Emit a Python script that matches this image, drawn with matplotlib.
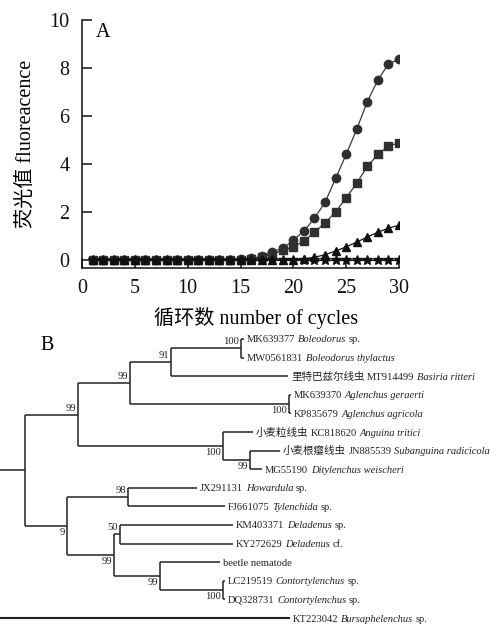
import matplotlib
matplotlib.use("Agg")
import matplotlib.pyplot as plt
import numpy as np

plt.rcParams['font.family'] = ['Liberation Serif', 'Noto Sans CJK SC']
plt.rcParams['axes.unicode_minus'] = False

# ---------------- Panel A data ----------------
cycles = list(range(1, 31))
circle_vals = [0]*14 + [0.03, 0.07, 0.15, 0.33, 0.5, 0.83, 1.2, 1.75, 2.4, 3.4,
                        4.4, 5.45, 6.6, 7.5, 8.17, 8.37]
square_vals = [0]*15 + [0.05, 0.12, 0.25, 0.4, 0.55, 0.8, 1.15, 1.55, 2.0, 2.6,
                        3.2, 3.9, 4.4, 4.75, 4.88]
triangle_vals = [0]*20 + [0.05, 0.12, 0.22, 0.38, 0.55, 0.75, 0.96, 1.16, 1.33, 1.45]
star_vals = [0]*30
x_ticks = [0, 5, 10, 15, 20, 25, 30]
y_ticks = [0, 2, 4, 6, 8, 10]

# ---------------- Panel B data (tree) ----------------
tip_segments = [
    [("MK639377", False), ("Boleodorus", True), ("sp.", False)],
    [("MW0561831", False), ("Boleodorus thylactus", True)],
    [("里特巴兹尔线虫", False), ("MT914499", False), ("Basiria ritteri", True)],
    [("MK639370", False), ("Aglenchus geraerti", True)],
    [("KP835679", False), ("Aglenchus agricola", True)],
    [("小麦粒线虫", False), ("KC818620", False), ("Anguina tritici", True)],
    [("小麦根瘿线虫", False), ("JN885539", False), ("Subanguina radicicola", True)],
    [("MG55190", False), ("Ditylenchus weischeri", True)],
    [("JX291131", False), ("Howardula", True), ("sp.", False)],
    [("FJ661075", False), ("Tylenchida", True), ("sp.", False)],
    [("KM403371", False), ("Deladenus", True), ("sp.", False)],
    [("KY272629", False), ("Deladenus", True), ("cf.", False)],
    [("beetle nematode", False)],
    [("LC219519", False), ("Contortylenchus", True), ("sp.", False)],
    [("DQ328731", False), ("Contortylenchus", True), ("sp.", False)],
    [("KT223042", False), ("Bursaphelenchus", True), ("sp.", False)],
]
tip_depth = [244, 244, 288, 291, 291, 253, 280, 262, 197, 225, 233, 233, 220, 225, 225, 290]

node_names = ['bol', 'a1a', 'agl', 'a1', 'sub', 'ang', 'A', 'how', 'del', 'con',
              'bee', 'd99', 'B', 'in', 'root']
node_children = [[0, 1], ['bol', 2], [3, 4], ['a1a', 'agl'], [6, 7], [5, 'sub'],
                 ['a1', 'ang'], [8, 9], [10, 11], [13, 14], [12, 'con'],
                 ['del', 'bee'], ['how', 'd99'], ['A', 'B'], ['in', 15]]
node_depth = [241, 171, 289, 130, 250, 223, 78, 128, 120, 223, 160, 114, 67, 25, -3]
node_support = ['100', '91', '100', '99', '99', '100', '99', '98', '50', '100',
                '99', '99', '9', '', '']
node_label_side = ['above', 'above', 'below', 'above', 'below', 'below', 'above',
                   'above', 'above', 'below', 'below', 'below', 'below', '', '']

W, H = 498, 627
fig = plt.figure(figsize=(W/100, H/100), dpi=100)

# ---------------- Panel A ----------------
axA = fig.add_axes([82/W, 1-268/H, 317/W, 248/H])
lc = '#3a3a3a'
mc = '#2f2f2f'
axA.plot(cycles, circle_vals, '-o', color=lc, lw=0.9, ms=6, mfc=mc, mec=mc, zorder=3)
axA.plot(cycles, square_vals, '-s', color=lc, lw=0.9, ms=5.6, mfc=mc, mec=mc, zorder=4)
axA.plot(cycles, triangle_vals, '-^', color='#111', lw=0.9, ms=5.5, mfc='#111', mec='#111', zorder=5)
axA.plot(cycles, star_vals, '-*', color='#111', lw=0.9, ms=7, mfc='#111', mec='#111', zorder=6)
axA.set_xlim(0, 30)
axA.set_ylim(-0.33, 10)
axA.set_xticks(x_ticks)
axA.set_yticks(y_ticks)
for s in ['top', 'right']:
    axA.spines[s].set_visible(False)
for s in ['left', 'bottom']:
    axA.spines[s].set_linewidth(1.1)
    axA.spines[s].set_color('#111')
axA.tick_params(axis='both', direction='in', length=7, width=1.1, labelsize=14.5,
                colors='#111')
axA.tick_params(axis='x', pad=8)
axA.tick_params(axis='y', pad=9)
axA.set_xlabel('循环数 number of cycles', fontsize=14.5)
axA.xaxis.set_label_coords(0.55, -0.158)
axA.set_ylabel('荧光值 fluoreacence', fontsize=14.5)
axA.yaxis.set_label_coords(-0.145, 0.5)
axA.text(0.065, 0.95, 'A', transform=axA.transAxes, fontsize=14.5, va='center', ha='center')

# ---------------- Panel B ----------------
top_px, tip0_px, step = 330, 339, 18.6
axB = fig.add_axes([0, 0, 1, (H-top_px)/H])
axB.set_xlim(0, W)
axB.set_ylim((H-tip0_px)/step, -(tip0_px-top_px)/step)
axB.axis('off')

node_x = dict(zip(node_names, node_depth))
node_kids = dict(zip(node_names, node_children))
node_y = {}

def ypos(k):
    if isinstance(k, int):
        return float(k)
    if k not in node_y:
        node_y[k] = np.mean([ypos(c) for c in node_kids[k]])
    return node_y[k]

def xpos(k):
    return tip_depth[k] if isinstance(k, int) else node_x[k]

tc = '#222'
lw = 1.1
for n in node_names:
    kids = node_kids[n]
    ys = [ypos(c) for c in kids]
    axB.plot([node_x[n], node_x[n]], [min(ys), max(ys)], color=tc, lw=lw,
             solid_capstyle='butt')
    for c in kids:
        axB.plot([node_x[n], xpos(c)], [ypos(c), ypos(c)], color=tc,
                 lw=1.5 if c == 15 else lw, solid_capstyle='butt')

for n, sup, side in zip(node_names, node_support, node_label_side):
    if not sup:
        continue
    y = ypos(n)
    if side == 'above':
        axB.text(node_x[n]-2, y-0.1, sup, ha='right', va='bottom', fontsize=7.6, color='#222')
    else:
        axB.text(node_x[n]-2, y+0.12, sup, ha='right', va='top', fontsize=7.6, color='#222')

renderer = fig.canvas.get_renderer()
for i, segs in enumerate(tip_segments):
    X, Y = axB.transData.transform((tip_depth[i] + 3, i))
    Y -= 3.5
    for text, ital in segs:
        t = fig.text(X/W, Y/H, text, fontsize=7.6, ha='left', va='baseline',
                     fontstyle='italic' if ital else 'normal', color='#222')
        X += t.get_window_extent(renderer).width + 2.6

fig.text(47/W, 1-345/H, 'B', fontsize=14.5, ha='center', va='center')

fig.savefig('out.png', dpi=100)
